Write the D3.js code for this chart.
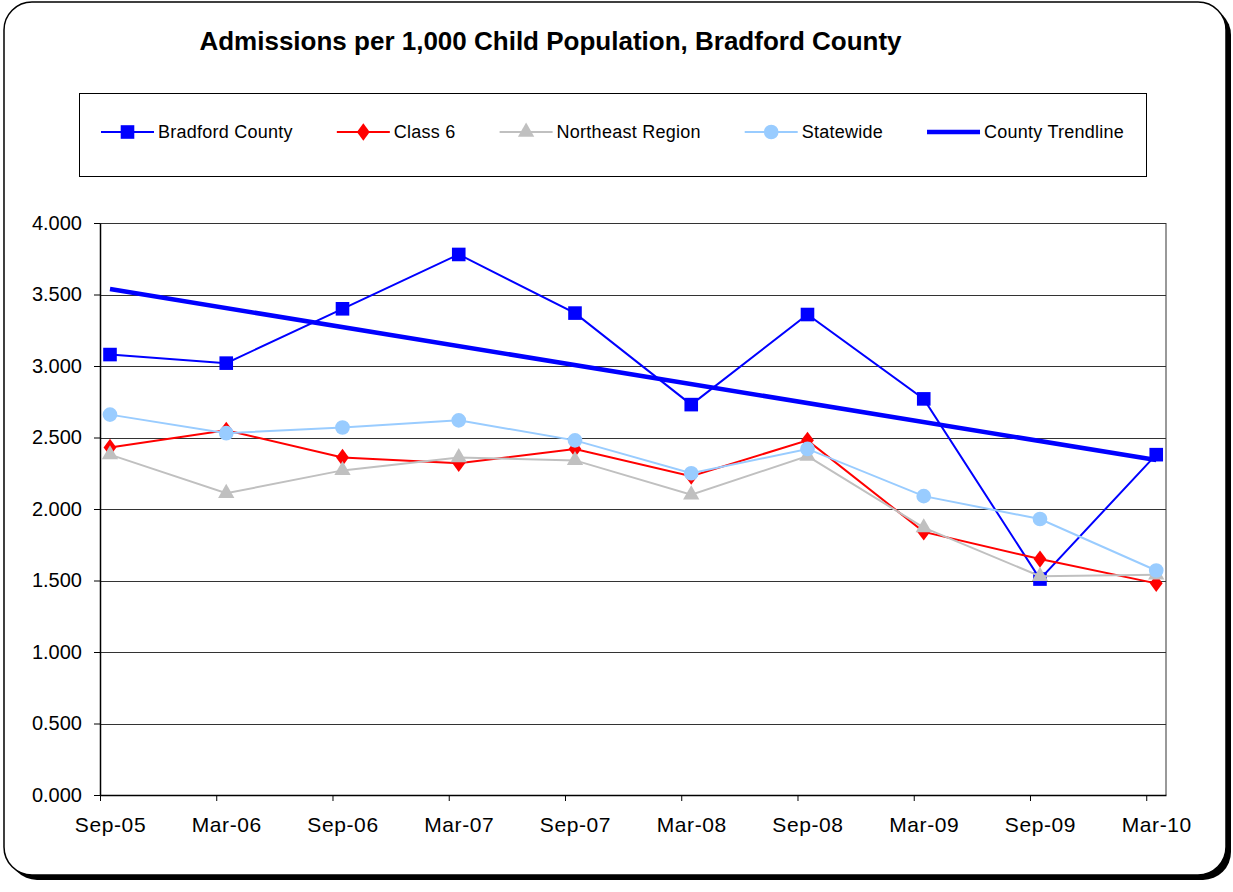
<!DOCTYPE html>
<html>
<head>
<meta charset="utf-8">
<script src="https://cdn.jsdelivr.net/npm/d3@7"></script>
<style>
  html, body { margin: 0; padding: 0; background: #fff; }
  svg { display: block; font-family: "Liberation Sans", Arial, sans-serif; }
</style>
</head>
<body>
<svg id="chart" width="1233" height="892"></svg>
<script>
// Half-year reporting periods
const categories = ["Sep-05", "Mar-06", "Sep-06", "Mar-07", "Sep-07", "Mar-08", "Sep-08", "Mar-09", "Sep-09", "Mar-10"];

// Admissions per 1,000 child population
const bradford  = [3.08, 3.02, 3.40, 3.78, 3.37, 2.73, 3.36, 2.77, 1.51, 2.38];
const class6    = [2.43, 2.55, 2.36, 2.32, 2.42, 2.23, 2.48, 1.84, 1.65, 1.48];
const northeast = [2.38, 2.11, 2.27, 2.36, 2.34, 2.10, 2.37, 1.87, 1.53, 1.54];
const statewide = [2.66, 2.53, 2.57, 2.62, 2.48, 2.25, 2.42, 2.09, 1.93, 1.57];

const yTicks = [0, 0.5, 1.0, 1.5, 2.0, 2.5, 3.0, 3.5, 4.0];

const titleText = "Admissions per 1,000 Child Population, Bradford County";

const svg = d3.select("#chart");

// ---- outer rounded frame with drop shadow ----
svg.append("rect")
  .attr("x", 9).attr("y", 7).attr("width", 1222).attr("height", 873)
  .attr("rx", 28).attr("fill", "#000");
svg.append("rect")
  .attr("x", 4).attr("y", 2).attr("width", 1222).attr("height", 873)
  .attr("rx", 28).attr("fill", "#fff").attr("stroke", "#000").attr("stroke-width", 1.5);

// ---- title ----
svg.append("text")
  .attr("x", 550.5).attr("y", 50)
  .attr("text-anchor", "middle")
  .attr("font-weight", "bold")
  .attr("font-size", 26)
  .text(titleText);

// ---- scales ----
const plot = { left: 100, right: 1166, top: 223, bottom: 795 };
const tickShift = 0.086; // category ticks sit slightly left of each data point
const x = d3.scaleLinear()
  .domain([-tickShift, categories.length - 1 + 0.084])
  .range([plot.left, plot.right]);
const y = d3.scaleLinear().domain([0, 4]).range([plot.bottom, plot.top]);

const g = svg.append("g");

// plot area right border
g.append("line")
  .attr("x1", plot.right).attr("x2", plot.right)
  .attr("y1", plot.top).attr("y2", plot.bottom)
  .attr("stroke", "#999").attr("stroke-width", 2);

// horizontal gridlines
g.append("g").selectAll("line")
  .data(yTicks.filter(d => d > 0))
  .join("line")
  .attr("x1", plot.left).attr("x2", plot.right)
  .attr("y1", d => Math.round(y(d)) + 0.5).attr("y2", d => Math.round(y(d)) + 0.5)
  .attr("stroke", "#333").attr("stroke-width", 1);

// y axis
const yAxis = g.append("g")
  .attr("transform", `translate(${plot.left},0)`)
  .call(d3.axisLeft(y).tickValues(yTicks).tickFormat(d3.format(".3f")).tickSize(6).tickPadding(12).tickSizeOuter(0));
yAxis.selectAll("text").attr("font-size", 20).attr("fill", "#000").attr("font-family", "Liberation Sans, Arial, sans-serif");
yAxis.selectAll("line").attr("stroke", "#000");
yAxis.select(".domain").attr("stroke", "#000").attr("stroke-width", 1.5);

// x axis: tick marks
const xTicks = g.append("g")
  .attr("transform", `translate(0,${plot.bottom})`)
  .call(d3.axisBottom(x).tickValues(d3.range(categories.length).map(i => i - tickShift)).tickFormat(() => "").tickSize(6).tickSizeOuter(0));
xTicks.selectAll("line").attr("stroke", "#000");
xTicks.select(".domain").attr("stroke", "#000").attr("stroke-width", 1.5);

// x axis: category labels centred under the data points
const xLabels = g.append("g")
  .attr("transform", `translate(0,${plot.bottom})`)
  .call(d3.axisBottom(x).tickValues(d3.range(categories.length)).tickFormat(i => categories[i]).tickSize(0).tickPadding(22));
xLabels.select(".domain").remove();
xLabels.selectAll("text")
  .attr("font-size", 21).attr("letter-spacing", 0.6)
  .attr("fill", "#000").attr("font-family", "Liberation Sans, Arial, sans-serif");

// ---- county trendline (least squares fit of the county series) ----
const n = bradford.length;
const xs = d3.range(n);
const mx = d3.mean(xs), my = d3.mean(bradford);
const slope = d3.sum(xs, i => (i - mx) * (bradford[i] - my)) / d3.sum(xs, i => (i - mx) ** 2);
const intercept = my - slope * mx;
const trend = [0, n - 1].map(i => [i, intercept + slope * i]);

const line = d3.line().x(d => x(d[0])).y(d => y(d[1]));

// ---- series ----
const series = [
  { name: "Bradford County", values: bradford,  color: "#0000FF", marker: "square" },
  { name: "Class 6",         values: class6,    color: "#FF0000", marker: "diamond" },
  { name: "Northeast Region",values: northeast, color: "#C0C0C0", marker: "triangle" },
  { name: "Statewide",       values: statewide, color: "#99CCFF", marker: "circle" }
];

const symbolOf = {
  square:   d3.symbol().type(d3.symbolSquare).size(185),
  diamond:  d3.symbol().type(d3.symbolDiamond2).size(145),
  triangle: d3.symbol().type(d3.symbolTriangle).size(115),
  circle:   d3.symbol().type(d3.symbolCircle).size(170)
};

g.append("path")
  .datum(trend)
  .attr("d", line)
  .attr("fill", "none").attr("stroke", "#0000FF").attr("stroke-width", 4.5);

series.forEach(s => {
  const pts = s.values.map((v, i) => [i, v]);
  g.append("path")
    .datum(pts)
    .attr("d", line)
    .attr("fill", "none").attr("stroke", s.color).attr("stroke-width", 2);
  g.append("g").selectAll("path")
    .data(pts)
    .join("path")
    .attr("transform", d => `translate(${x(d[0])},${y(d[1])})` + (s.marker === "diamond" ? " scale(0.85,1.15)" : ""))
    .attr("d", symbolOf[s.marker])
    .attr("fill", s.color);
});

// ---- legend ----
const legendBox = { x: 79.5, y: 93.5, w: 1067, h: 83 };
svg.append("rect")
  .attr("x", legendBox.x).attr("y", legendBox.y).attr("width", legendBox.w).attr("height", legendBox.h)
  .attr("fill", "#fff").attr("stroke", "#000").attr("stroke-width", 1);

const legendItems = series.map(s => ({ name: s.name, color: s.color, marker: s.marker, width: 2 }))
  .concat([{ name: "County Trendline", color: "#0000FF", marker: null, width: 4.5 }]);

let lx = 101;
const ly = 132;
legendItems.forEach(item => {
  const lg = svg.append("g");
  lg.append("line")
    .attr("x1", lx).attr("x2", lx + 53).attr("y1", ly).attr("y2", ly)
    .attr("stroke", item.color).attr("stroke-width", item.width);
  if (item.marker) {
    lg.append("path")
      .attr("transform", `translate(${lx + 26.5},${ly})` + (item.marker === "diamond" ? " scale(0.85,1.15)" : ""))
      .attr("d", symbolOf[item.marker])
      .attr("fill", item.color);
  }
  const t = lg.append("text")
    .attr("x", lx + 57).attr("y", ly + 6)
    .attr("font-size", 18)
    .attr("letter-spacing", 0.25)
    .attr("fill", "#000")
    .text(item.name);
  lx += 57 + t.node().getComputedTextLength() + 44;
});
</script>
</body>
</html>
